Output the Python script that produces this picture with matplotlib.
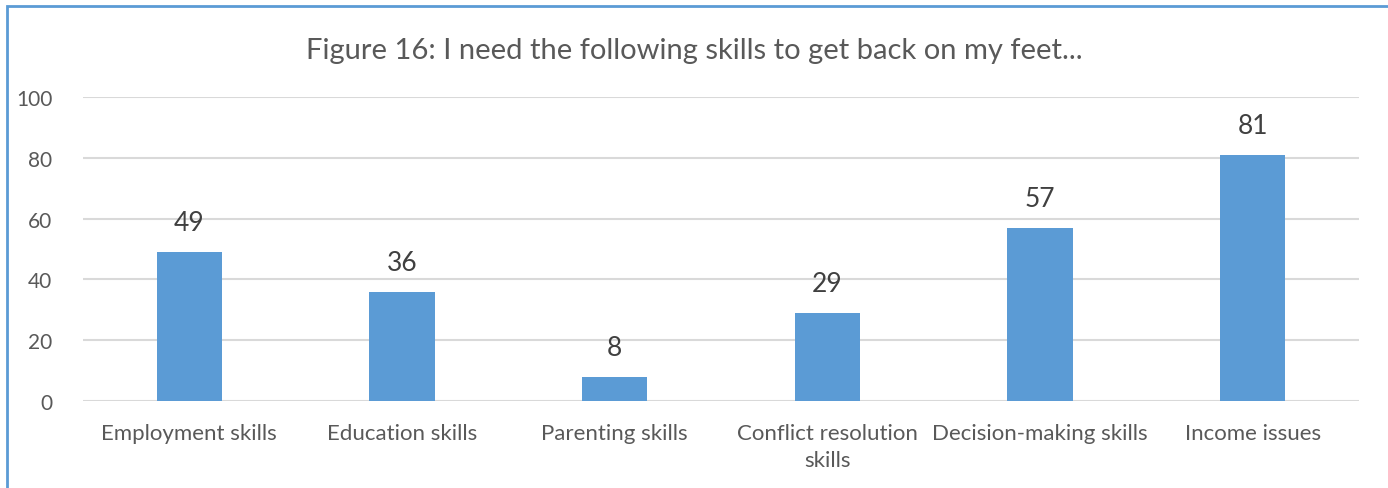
import matplotlib
matplotlib.use("Agg")
import matplotlib.pyplot as plt
from matplotlib.patches import Rectangle

categories = ["Employment skills", "Education skills", "Parenting skills",
              "Conflict resolution\nskills", "Decision-making skills", "Income issues"]
values = [49, 36, 8, 29, 57, 81]
yticks = [0, 20, 40, 60, 80, 100]
title = "Figure 16: I need the following skills to get back on my feet..."

plt.rcParams['font.family'] = ['Lato', 'DejaVu Sans']
grey = "#595959"
bar_color = "#5b9bd5"

W, H = 1388, 489
fig = plt.figure(figsize=(W / 100, H / 100), dpi=100)
ax = fig.add_axes([83 / W, 1 - 402 / H, (1359 - 83) / W, (402 - 98) / H])

x = list(range(len(categories)))
ax.bar(x, values, width=65 / 212.6, color=bar_color, zorder=3)
ax.set_xlim(-0.5, len(categories) - 0.5)
ax.set_ylim(0, 100)
ax.set_yticks(yticks)
ax.set_yticklabels([str(v) for v in yticks], fontsize=15, color=grey)
ax.set_xticks(x)
ax.set_xticklabels(categories, fontsize=16, color=grey, linespacing=1.45)
ax.tick_params(axis='both', length=0)
ax.tick_params(axis='y', pad=22)
ax.tick_params(axis='x', pad=16)
ax.grid(axis='y', color="#d9d9d9", linewidth=1.5, zorder=0)
for s in ax.spines.values():
    s.set_visible(False)

for xi, v in zip(x, values):
    ax.annotate(str(v), (xi, v), xytext=(0, 12), textcoords='offset points',
                ha='center', va='bottom', fontsize=19, color="#404040")

fig.text(0.5, 1 - 51 / H, title, ha='center', va='center', fontsize=21, color=grey)

border = Rectangle((6.5 / W, -0.1), 1.2, 1 - 6.5 / H + 0.1, transform=fig.transFigure,
                   fill=False, edgecolor="#5b9bd5", linewidth=2)
fig.patches.append(border)

fig.savefig("out.png", dpi=100)
